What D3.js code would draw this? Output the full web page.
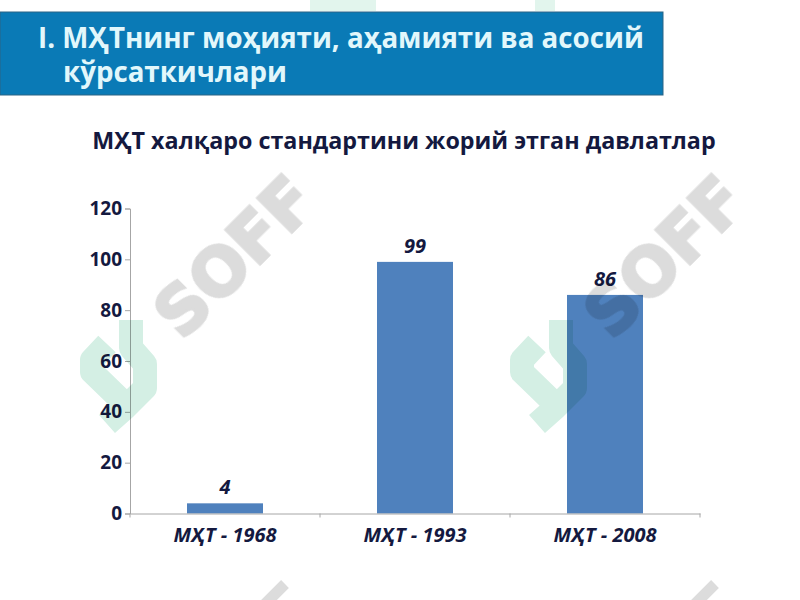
<!DOCTYPE html>
<html>
<head>
<meta charset="utf-8">
<script src="https://cdn.jsdelivr.net/npm/d3@7"></script>
<style>
  html, body { margin: 0; background: #fff; }
  svg { display: block; font-family: "Open Sans", sans-serif; }
</style>
</head>
<body>
<svg id="chart" width="800" height="600"></svg>
<script>
const titleLines = ["I. МҲТнинг моҳияти, аҳамияти ва асосий", "кўрсаткичлари"];
const chartTitle = "МҲТ халқаро стандартини жорий этган давлатлар";
const categories = ["МҲТ - 1968", "МҲТ - 1993", "МҲТ - 2008"];
const values = [4, 99, 86];
const yTicks = [0, 20, 40, 60, 80, 100, 120];

const ink = "#14193f";
const svg = d3.select("#chart");

// header band
svg.append("rect").attr("x", 0).attr("y", 12).attr("width", 663).attr("height", 83)
  .attr("fill", "#0a7ab6").attr("stroke", "#2a6485").attr("stroke-width", 1);
svg.append("text").attr("x", 38).attr("y", 48).text(titleLines[0])
  .attr("font-size", 27.7).attr("font-weight", 700).attr("fill", "#e2f7fb");
svg.append("text").attr("x", 63).attr("y", 82).text(titleLines[1])
  .attr("font-size", 27.7).attr("font-weight", 700).attr("fill", "#e2f7fb");

svg.append("text").attr("x", 404).attr("y", 149).attr("text-anchor", "middle").text(chartTitle)
  .attr("font-size", 23.3).attr("font-weight", 700).attr("fill", ink);

const x = d3.scaleBand().domain(categories).range([130, 700]).paddingInner(0.6).paddingOuter(0.3);
const y = d3.scaleLinear().domain([0, 120]).range([513.5, 208.5]);

svg.append("g").selectAll("rect").data(categories).join("rect")
  .attr("x", d => x(d))
  .attr("y", (d, i) => y(values[i]))
  .attr("width", x.bandwidth())
  .attr("height", (d, i) => y(0) - y(values[i]))
  .attr("fill", "#4f81bd");

// y axis
const yAxis = svg.append("g").attr("transform", "translate(130,0)")
  .call(d3.axisLeft(y).tickValues(yTicks).tickSize(5).tickPadding(3));
// x axis, ticks on the category boundaries
const xAxis = svg.append("g").attr("transform", "translate(0,513.5)")
  .call(d3.axisBottom(x).tickSize(0).tickPadding(14));
xAxis.selectAll(".boundary").data(d3.range(categories.length + 1)).join("line")
  .attr("class", "boundary")
  .attr("x1", i => 130 + i * x.step()).attr("x2", i => 130 + i * x.step())
  .attr("y1", 0).attr("y2", 4).attr("stroke", "#a6a6a6");

svg.selectAll(".domain, .tick line").attr("stroke", "#a6a6a6");
yAxis.selectAll("text").attr("font-size", 19).attr("font-weight", 700).attr("fill", ink)
  .attr("font-family", "Open Sans");
xAxis.selectAll(".tick text").attr("font-size", 20).attr("font-weight", 700)
  .attr("font-style", "italic").attr("fill", ink).attr("font-family", "Open Sans");

// value labels
svg.append("g").selectAll("text").data(categories).join("text")
  .attr("x", d => x(d) + x.bandwidth() / 2)
  .attr("y", (d, i) => y(values[i]) - 9)
  .attr("text-anchor", "middle")
  .attr("font-size", 20).attr("font-weight", 700).attr("font-style", "italic").attr("fill", ink)
  .text((d, i) => values[i]);

// stock-photo watermark laid over the slide
const wmWords = [[238, 260], [668, 260]];
const wmGlyphs = [[117, 372], [547, 372]];
const wmTopEdge = [[310, 66], [535, 20]];
const wmBottomEdge = [[279, 590], [709, 590]];
const wm = svg.append("g").style("mix-blend-mode", "multiply");
wm.selectAll(".word").data(wmWords).join("text").attr("class", "word")
  .attr("transform", d => `translate(${d[0]},${d[1]}) rotate(-45)`)
  .attr("text-anchor", "middle").attr("dominant-baseline", "middle")
  .attr("font-family", "DejaVu Sans").attr("font-size", 66).attr("font-weight", 700)
  .attr("fill", "#dcdcdc").attr("stroke", "#dcdcdc").attr("stroke-width", 3).text("SOFF");
wm.selectAll(".glyph").data(wmGlyphs).join("path").attr("class", "glyph")
  .attr("transform", d => `translate(${d[0]},${d[1]})`)
  .attr("d", "M-10,-28L-25,-12V0L8,32M14,-52V-24L28,-8V16L8,36L-10,52")
  .attr("fill", "none").attr("stroke", "#d4efe4").attr("stroke-width", 24).attr("stroke-linejoin", "round");
// the neighbouring watermark tiles only just show at the top and bottom edge
wm.selectAll(".top").data(wmTopEdge).join("rect").attr("class", "top")
  .attr("x", d => d[0]).attr("y", 0).attr("width", d => d[1]).attr("height", 11)
  .attr("fill", "#e2f5ed");
wm.selectAll(".bottom").data(wmBottomEdge).join("line").attr("class", "bottom")
  .attr("x1", d => d[0] - 16).attr("y1", d => d[1] + 16).attr("x2", d => d[0] + 6).attr("y2", d => d[1] - 6)
  .attr("stroke", "#dcdcdc").attr("stroke-width", 11);
</script>
</body>
</html>
